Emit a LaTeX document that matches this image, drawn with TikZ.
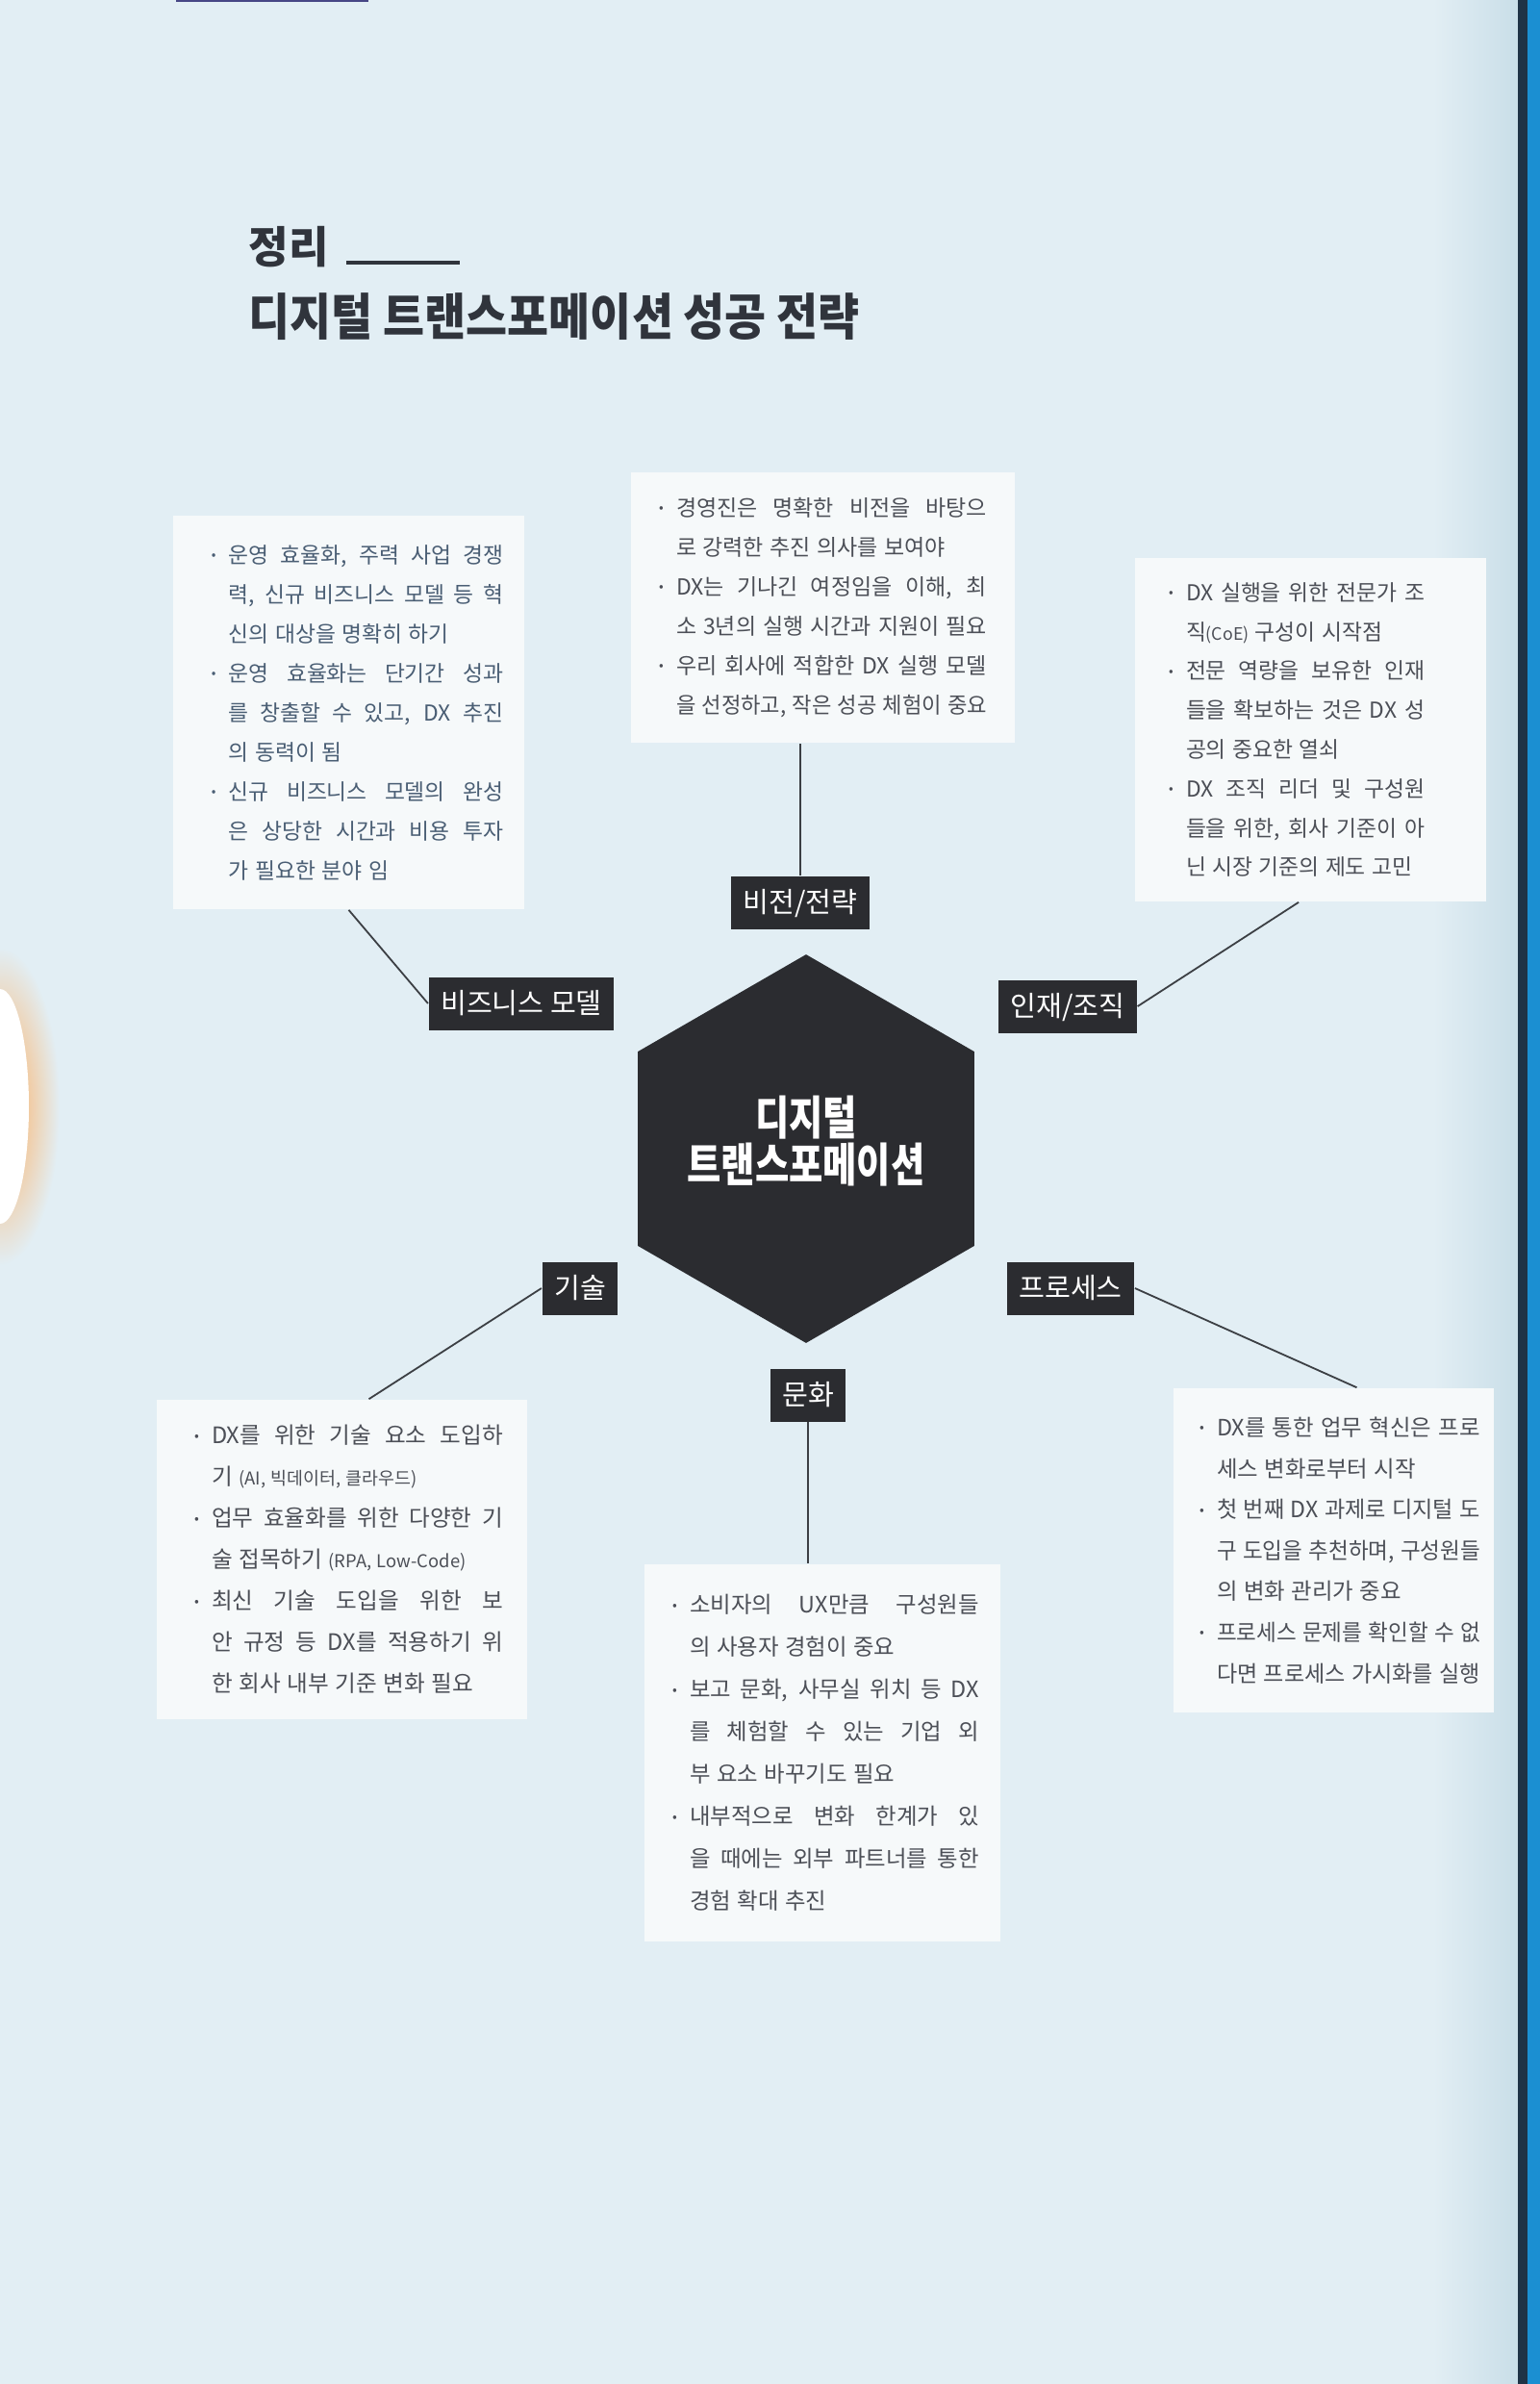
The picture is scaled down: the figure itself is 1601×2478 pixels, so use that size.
\documentclass[tikz,border=0pt]{standalone}
\usepackage{fontspec}
\setmainfont{Noto Sans CJK KR}
\usepackage{graphicx}
\usetikzlibrary{shapes.geometric}

\definecolor{paper}{HTML}{E2EEF4}
\definecolor{boxwhite}{HTML}{F6F9FA}
\definecolor{inkgray}{HTML}{4C4F57}
\definecolor{inkblue}{HTML}{4A5E74}
\definecolor{inkline}{HTML}{3C3F44}
\definecolor{darkbox}{HTML}{2B2C30}
\definecolor{titleink}{HTML}{30343C}
\definecolor{edgegray}{HTML}{C9DEE8}
\definecolor{edgenavy}{HTML}{1F3346}
\definecolor{edgeblue}{HTML}{1B8FD2}

\newlength{\bulletgap}\setlength{\bulletgap}{4.5pt}
\newlength{\leftpad}\setlength{\leftpad}{0pt}
\newlength{\rightpad}\setlength{\rightpad}{0pt}
\newlength{\natw}
\newlength{\fitw}
\newcommand{\cardfont}[2]{\fontsize{#1}{#2}\selectfont}
\newcommand{\wordgap}{\spaceskip=0.28em plus 1em minus 0.05em\relax}
\newcommand{\bulletdot}{\raisebox{0.16em}{\scalebox{0.6}{•}}}
\newcommand{\linefit}[1]{{\wordgap
  \settowidth{\natw}{#1}%
  \setlength{\fitw}{\dimexpr\linewidth-\leftpad-\bulletgap-\rightpad\relax}%
  \ifdim\natw>\fitw \resizebox{\fitw}{\height}{#1}\else\makebox[\fitw][s]{#1}\fi}}
\newcommand{\itemline}[1]{\hspace*{\leftpad}\makebox[\bulletgap][l]{\bulletdot}\linefit{#1}}
\newcommand{\fillline}[1]{\hspace*{\leftpad}\hspace*{\bulletgap}\linefit{#1}}
\newcommand{\tailline}[1]{\hspace*{\leftpad}\hspace*{\bulletgap}{\wordgap\mbox{#1}}}
\newcommand{\aside}[1]{\scalebox{0.78}{#1}}
\newcommand{\squeeze}[2]{\scalebox{#1}[1]{#2}}

\begin{document}
\begin{tikzpicture}[x=0.25pt, y=-0.25pt,
  card/.style={fill=boxwhite, inner sep=0pt, align=left, text=inkgray},
  pads/.style 2 args={execute at begin node={\setlength{\leftpad}{#1}\setlength{\rightpad}{#2}}},
  tag/.style={fill=darkbox, text=white, inner xsep=3.1pt, inner ysep=0pt, minimum height=13.75pt,
    text height=6pt, text depth=0.7pt, font=\fontsize{7.3}{8}\selectfont},
  hexa/.style={regular polygon, regular polygon sides=6, shape border rotate=30, minimum size=100.5pt,
    fill=darkbox, text=white, inner sep=0pt, align=center, text depth=5pt,
    font=\fontsize{12}{11}\selectfont\bfseries},
  link/.style={draw=inkline, line width=0.45pt}]

%page
\useasboundingbox (0,0) rectangle (1601,2478);
\clip (0,0) rectangle (1601,2478);
\fill[paper] (0,0) rectangle (1601,2478);
\shade[left color=paper, right color=edgegray] (1490,0) rectangle (1578,2478);
\fill[edgenavy] (1578,0) rectangle (1588,2478);
\fill[edgeblue] (1588,0) rectangle (1601,2478);
\shade[inner color=orange!65!white, outer color=paper] (0,1150) ellipse (62 and 165);
\fill[white] (0,1150) ellipse (30 and 122);
\draw[line width=0.6pt, gray!70!blue!80!black] (183,1) -- (383,1);

%title
\node[anchor=base west, inner sep=0pt, text=titleink, font=\fontsize{11.3}{13}\selectfont\bfseries] (jeongri) at (258,273) {정리};
\draw[titleink, line width=1pt] ([xshift=4.25pt]jeongri.base east) -- ++(118,0);
\node[anchor=base west, inner sep=0pt, text=titleink, font=\fontsize{13}{15}\selectfont\bfseries] (maintitle) at (258,348) {\squeeze{0.9}{디지털 트랜스포메이션 성공 전략}};

%text boxes
\node[card, minimum width=99.75pt, minimum height=70.25pt, text width=85.25pt, font=\cardfont{5.75}{10.25}] (visionbox) at (855.5,631.5) {%
\itemline{경영진은 명확한 비전을 바탕으}\\
\tailline{로 강력한 추진 의사를 보여야}\\
\itemline{DX는 기나긴 여정임을 이해, 최}\\
\fillline{소 3년의 실행 시간과 지원이 필요}\\
\itemline{우리 회사에 적합한 DX 실행 모델}\\
\fillline{을 선정하고, 작은 성공 체험이 중요}};

\node[card, text=inkblue, minimum width=91.25pt, minimum height=102.25pt, text width=80.25pt, pads={4.5pt}{0pt}, font=\cardfont{5.7}{10.25}] (businessbox) at (362.5,740.5) {%
\itemline{운영 효율화, 주력 사업 경쟁}\\
\fillline{력, 신규 비즈니스 모델 등 혁}\\
\tailline{신의 대상을 명확히 하기}\\
\itemline{운영 효율화는 단기간 성과}\\
\fillline{를 창출할 수 있고, DX 추진}\\
\tailline{의 동력이 됨}\\
\itemline{신규 비즈니스 모델의 완성}\\
\fillline{은 상당한 시간과 비용 투자}\\
\tailline{가 필요한 분야 임}};

\node[card, minimum width=91.25pt, minimum height=89.25pt, text width=73.75pt, pads={0pt}{7.25pt}, font=\cardfont{5.7}{10.2}] (peoplebox) at (1362.5,758.5) {%
\itemline{DX 실행을 위한 전문가 조}\\
\tailline{직\aside{(CoE)} 구성이 시작점}\\
\itemline{전문 역량을 보유한 인재}\\
\fillline{들을 확보하는 것은 DX 성}\\
\tailline{공의 중요한 열쇠}\\
\itemline{DX 조직 리더 및 구성원}\\
\fillline{들을 위한, 회사 기준이 아}\\
\tailline{닌 시장 기준의 제도 고민}};

\node[card, minimum width=96.25pt, minimum height=83pt, text width=83.75pt, pads={3.5pt}{0pt}, font=\cardfont{5.9}{10.75}] (techbox) at (355.5,1621) {%
\itemline{DX를 위한 기술 요소 도입하}\\
\tailline{기 \aside{(AI, 빅데이터, 클라우드)}}\\
\itemline{업무 효율화를 위한 다양한 기}\\
\tailline{술 접목하기 \aside{(RPA, Low-Code)}}\\
\itemline{최신 기술 도입을 위한 보}\\
\fillline{안 규정 등 DX를 적용하기 위}\\
\tailline{한 회사 내부 기준 변화 필요}};

\node[card, minimum width=92.5pt, minimum height=98pt, text width=81.5pt, pads={1.75pt}{0pt}, font=\cardfont{5.85}{11}] (culturebox) at (855,1822) {%
\itemline{소비자의 UX만큼 구성원들}\\
\tailline{의 사용자 경험이 중요}\\
\itemline{보고 문화, 사무실 위치 등 DX}\\
\fillline{를 체험할 수 있는 기업 외}\\
\tailline{부 요소 바꾸기도 필요}\\
\itemline{내부적으로 변화 한계가 있}\\
\fillline{을 때에는 외부 파트너를 통한}\\
\tailline{경험 확대 추진}};

\node[card, minimum width=83.25pt, minimum height=84.25pt, text width=76.25pt, pads={3.25pt}{0pt}, font=\cardfont{5.85}{10.65}] (processbox) at (1386.5,1611.5) {%
\itemline{DX를 통한 업무 혁신은 프로}\\
\tailline{세스 변화로부터 시작}\\
\itemline{첫 번째 DX 과제로 디지털 도}\\
\fillline{구 도입을 추천하며, 구성원들}\\
\tailline{의 변화 관리가 중요}\\
\itemline{프로세스 문제를 확인할 수 없}\\
\fillline{다면 프로세스 가시화를 실행}};

%center
\node[hexa] (dx) at (838,1194) {\squeeze{0.8}{디지털}\\\squeeze{0.8}{트랜스포메이션}};

%labels
\node[tag] (vision) at (832,938) {비전/전략};
\node[tag] (business) at (542,1043) {비즈니스 모델};
\node[tag] (people) at (1110,1046) {인재/조직};
\node[tag] (tech) at (603,1339) {기술};
\node[tag] (process) at (1113,1339) {프로세스};
\node[tag] (culture) at (840,1450) {문화};

%connectors
\draw[link] (vision.north) -- (vision.north |- visionbox.south);
\draw[link] (business.west) -- (businessbox.south);
\draw[link] (people.east) -- ([xshift=-3.1pt]peoplebox.south);
\draw[link] (tech.west) -- ([xshift=7pt]techbox.north);
\draw[link] (process.east) -- ([xshift=6pt]processbox.north);
\draw[link] (culture.south) -- (culture.south |- culturebox.north);

\end{tikzpicture}
\end{document}
